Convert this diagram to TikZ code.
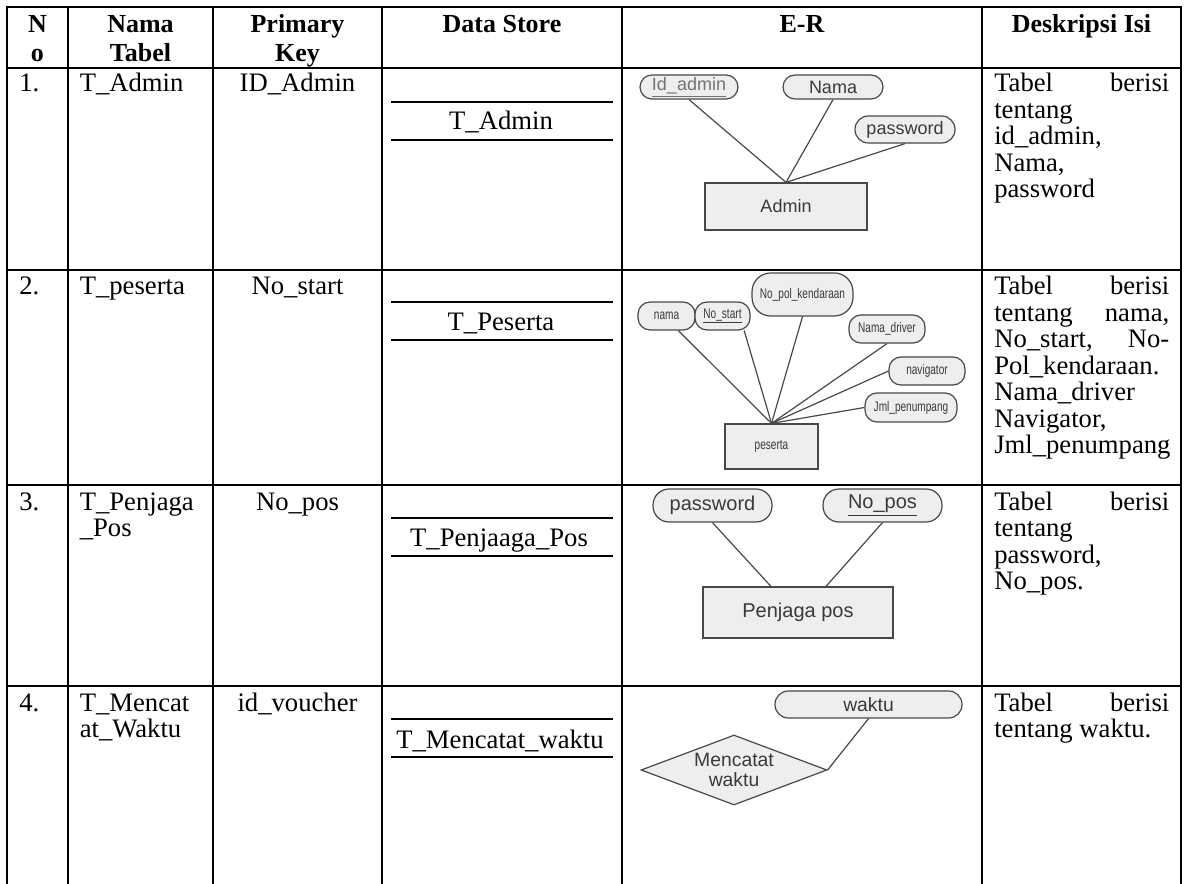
\documentclass[tikz,border=0pt]{standalone}
\usepackage{fontspec}
\setmainfont{Liberation Serif}
\newfontfamily\ersans{Liberation Sans}
\newfontfamily\ernarrow[FakeStretch=0.72]{Liberation Sans}
\usetikzlibrary{shapes.geometric}
\newdimen\pxu \pxu=0.75pt
\definecolor{erfill}{HTML}{EEEEEE}
\definecolor{erline}{HTML}{484848}
\definecolor{ertext}{HTML}{3A3A3A}
\tikzset{
  tabline/.style={line width=1.5pt, line cap=rect},
  cell/.style={inner sep=0pt, font=\fontsize{20}{21}\selectfont},
  head/.style={inner sep=0pt, font=\fontsize{19.5}{21}\selectfont\bfseries},
  attr/.style={draw=erline, fill=erfill, line width=0.9pt, rounded corners=#1,
    inner sep=0pt, text=ertext},
  entity/.style={draw=erline, fill=erfill, line width=0.9pt, inner sep=0pt, text=ertext},
  erlink/.style={draw=erline, line width=0.9pt},
  er1/.style={font=\ersans\fontsize{13.5}{14}\selectfont},
  er2/.style={font=\ernarrow\fontsize{10.5}{11}\selectfont},
  er3/.style={font=\ersans\fontsize{15}{16}\selectfont},
  er4/.style={font=\ersans\fontsize{14.5}{14.5}\selectfont},
}
\newcommand{\just}[1]{\makebox[131.25pt][s]{#1}}
\begin{document}
\begin{tikzpicture}[x=0.75pt,y=-0.75pt]
\useasboundingbox (0,0) rectangle (1185,884);

% table rules
\draw[tabline] (6.7,6.7) -- (1181,6.7);
\foreach \y in {68,270,485,686} \draw[tabline] (6.7,\y) -- (1181,\y);
\foreach \x in {6.7,68,213,382,622,982,1181} \draw[tabline] (\x,6.7) -- (\x,890);

% header
\node[head,anchor=base] (hN) at (37.4,33) {N};
\node[head,anchor=base] (hNo) at (37.4,61.5) {o};
\node[head,anchor=base] (hNama) at (140.5,33) {Nama};
\node[head,anchor=base] (hTabel) at (140.5,61.5) {Tabel};
\node[head,anchor=base] (hPrim) at (297.5,33) {Primary};
\node[head,anchor=base] (hKey) at (297.5,61.5) {Key};
\node[head,anchor=base] (hDS) at (502,33) {Data Store};
\node[head,anchor=base] (hER) at (802,33) {E-R};
\node[head,anchor=base] (hDesc) at (1081.5,33) {Deskripsi Isi};

% row 1
\node[cell,anchor=base west] (n1) at (19,92) {1.};
\node[cell,anchor=base west] (t1) at (79.5,92) {T\_Admin};
\node[cell,anchor=base] (k1) at (297.5,92) {ID\_Admin};
\draw[tabline] (392,101.7) -- (612,101.7);
\node[cell,anchor=base] (s1) at (501,130) {T\_Admin};
\draw[tabline] (392,140) -- (612,140);
\node[cell,anchor=base west] (d1a) at (994,92) {\just{Tabel berisi}};
\node[cell,anchor=base west] (d1b) at (994,118.5) {tentang};
\node[cell,anchor=base west] (d1c) at (994,145) {id\_admin,};
\node[cell,anchor=base west] (d1d) at (994,171.5) {Nama,};
\node[cell,anchor=base west] (d1e) at (994,198) {password};

% row 1 E-R
\node[attr=9pt,er1,minimum width=98*\pxu,minimum height=24*\pxu,text=black!55] (ida) at (689,87) {\underline{Id\_admin}};
\node[attr=9pt,er1,minimum width=100*\pxu,minimum height=24*\pxu] (nama1) at (833,87) {Nama};
\node[attr=10pt,er1,minimum width=100*\pxu,minimum height=27*\pxu] (pw1) at (905,129.5) {password};
\node[entity,er1,minimum width=162*\pxu,minimum height=47*\pxu] (admin) at (786,206.5) {Admin};
\draw[erlink] (ida.south) -- (admin.north);
\draw[erlink] (nama1.south) -- (admin.north);
\draw[erlink] (pw1.south) -- (admin.north);

% row 2
\node[cell,anchor=base west] (n2) at (19,294.5) {2.};
\node[cell,anchor=base west] (t2) at (79.5,294.5) {T\_peserta};
\node[cell,anchor=base] (k2) at (297.5,294.5) {No\_start};
\draw[tabline] (392,301.7) -- (612,301.7);
\node[cell,anchor=base] (s2) at (501,330.7) {T\_Peserta};
\draw[tabline] (392,340) -- (612,340);
\node[cell,anchor=base west] (d2a) at (994,294.5) {\just{Tabel berisi}};
\node[cell,anchor=base west] (d2b) at (994,321) {\just{tentang nama,}};
\node[cell,anchor=base west] (d2c) at (994,347.5) {\just{No\_start, No-}};
\node[cell,anchor=base west] (d2d) at (994,374) {Pol\_kendaraan.};
\node[cell,anchor=base west] (d2e) at (994,400.5) {Nama\_driver};
\node[cell,anchor=base west] (d2f) at (994,427) {Navigator,};
\node[cell,anchor=base west] (d2g) at (994,453.5) {Jml\_penumpang};

% row 2 E-R
\node[attr=14pt,er2,minimum width=101*\pxu,minimum height=43*\pxu] (nopol) at (802.5,294.5) {No\_pol\_kendaraan};
\node[attr=9pt,er2,minimum width=57*\pxu,minimum height=28*\pxu] (nama2) at (666.5,316) {nama};
\node[attr=9pt,er2,minimum width=55*\pxu,minimum height=28*\pxu] (nostart) at (722.5,316) {\underline{No\_start}};
\node[attr=9pt,er2,minimum width=76*\pxu,minimum height=28*\pxu] (driver) at (887,329) {Nama\_driver};
\node[attr=9pt,er2,minimum width=76*\pxu,minimum height=28*\pxu] (navi) at (927,371) {navigator};
\node[attr=9pt,er2,minimum width=92*\pxu,minimum height=29*\pxu] (jml) at (911,407.5) {Jml\_penumpang};
\node[entity,er2,minimum width=93*\pxu,minimum height=45*\pxu] (peserta) at (771.5,446.5) {peserta};
\draw[erlink] (nama2.-51) -- (peserta.north);
\draw[erlink] (nostart.-34) -- (peserta.north);
\draw[erlink] (nopol.south) -- (peserta.north);
\draw[erlink] (driver.south) -- (peserta.north);
\draw[erlink] (navi.west) -- (peserta.north);
\draw[erlink] (jml.west) -- (peserta.north);

% row 3
\node[cell,anchor=base west] (n3) at (19,510) {3.};
\node[cell,anchor=base west] (t3a) at (79.5,510) {T\_Penjaga};
\node[cell,anchor=base west] (t3b) at (79.5,536.5) {\_Pos};
\node[cell,anchor=base] (k3) at (297.5,510) {No\_pos};
\draw[tabline] (392,517.7) -- (612,517.7);
\node[cell,anchor=base] (s3) at (499,546.7) {T\_Penjaaga\_Pos};
\draw[tabline] (392,556) -- (612,556);
\node[cell,anchor=base west] (d3a) at (994,510) {\just{Tabel berisi}};
\node[cell,anchor=base west] (d3b) at (994,536.5) {tentang};
\node[cell,anchor=base west] (d3c) at (994,563) {password,};
\node[cell,anchor=base west] (d3d) at (994,589.5) {No\_pos.};

% row 3 E-R
\node[attr=12pt,er3,minimum width=119*\pxu,minimum height=33*\pxu] (pw3) at (712.5,505.5) {password};
\node[attr=12pt,er3,minimum width=119*\pxu,minimum height=33*\pxu] (nopos) at (882.5,505.5) {\underline{No\_pos}};
\node[entity,er3,minimum width=190*\pxu,minimum height=51*\pxu] (penjaga) at (798,612.5) {Penjaga pos};
\draw[erlink] (pw3.south) -- (penjaga.136);
\draw[erlink] (nopos.south) -- (penjaga.43);

% row 4
\node[cell,anchor=base west] (n4) at (19,711) {4.};
\node[cell,anchor=base west] (t4a) at (79.5,711) {T\_Mencat};
\node[cell,anchor=base west] (t4b) at (79.5,737.5) {at\_Waktu};
\node[cell,anchor=base] (k4) at (297.5,711) {id\_voucher};
\draw[tabline] (392,719) -- (612,719);
\node[cell,anchor=base] (s4) at (500,748) {T\_Mencatat\_waktu};
\draw[tabline] (392,756.7) -- (612,756.7);
\node[cell,anchor=base west] (d4a) at (994,711) {\just{Tabel berisi}};
\node[cell,anchor=base west] (d4b) at (994,737.5) {tentang waktu.};

% row 4 E-R
\node[attr=10pt,er4,minimum width=187*\pxu,minimum height=27*\pxu] (waktu) at (868.5,704.5) {waktu};
\node[diamond,draw=erline,fill=erfill,line width=0.9pt,inner sep=0pt,aspect=2.66,
  text=ertext,er4,align=center,minimum width=186*\pxu,minimum height=70*\pxu] (catat) at (734,770) {Mencatat\\waktu};
\draw[erlink] (waktu.south) -- (catat.east);
\end{tikzpicture}
\end{document}
